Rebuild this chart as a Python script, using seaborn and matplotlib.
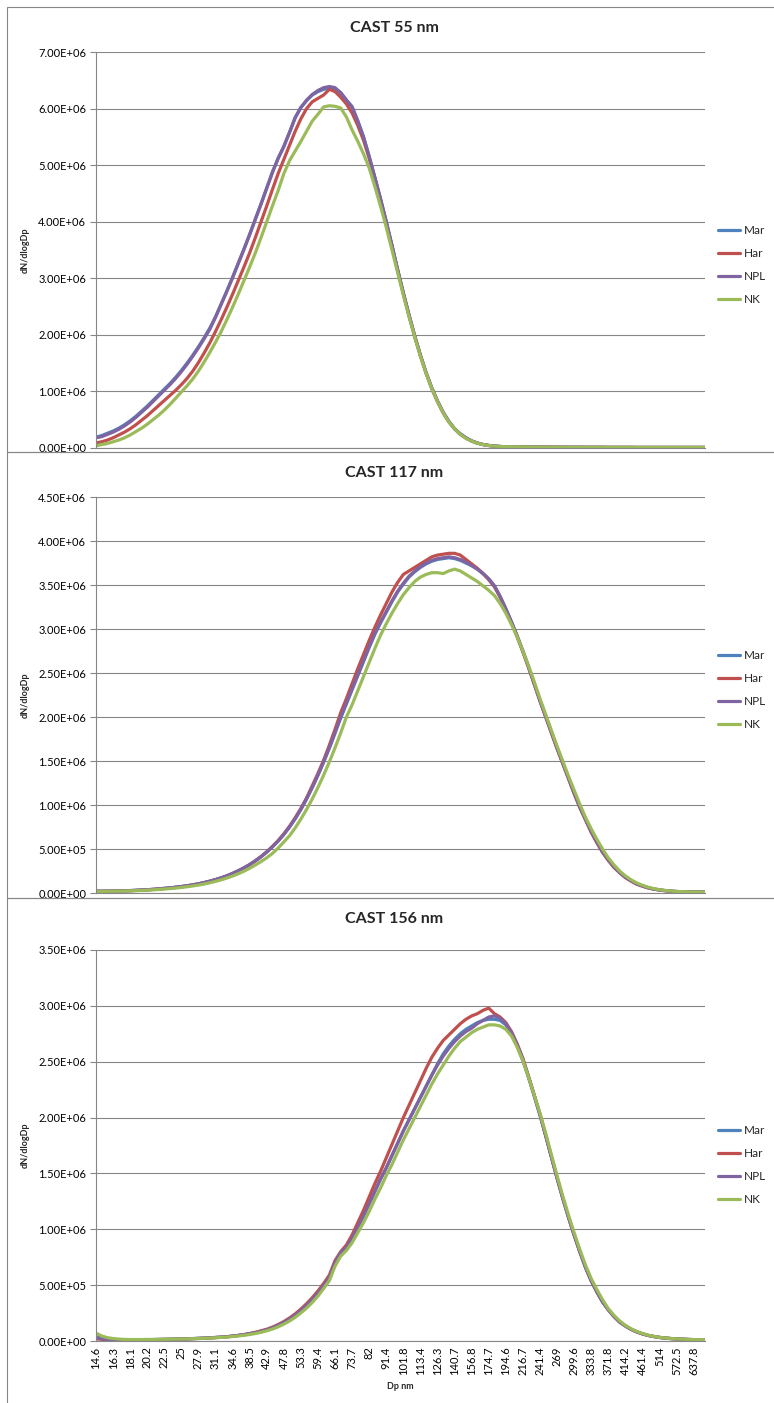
import matplotlib
matplotlib.use("Agg")
import matplotlib.pyplot as plt
from matplotlib.patches import Rectangle
from matplotlib.ticker import FuncFormatter, MultipleLocator
import numpy as np
import pandas as pd
import seaborn as sns

# SMPS channel midpoints (nm), 64 channels per decade
dp_bins = [
    14.6, 15.1, 15.7, 16.3, 16.8, 17.5, 18.1, 18.8, 19.5, 20.2, 20.9, 21.7, 22.5, 23.3, 24.1,
    25.0, 25.9, 26.9, 27.9, 28.9, 30.0, 31.1, 32.2, 33.4, 34.6, 35.9, 37.2, 38.5, 40.0, 41.4,
    42.9, 44.5, 46.1, 47.8, 49.6, 51.4, 53.3, 55.2, 57.3, 59.4, 61.5, 63.8, 66.1, 68.5, 71.0,
    73.7, 76.4, 79.1, 82.0, 85.1, 88.2, 91.4, 94.7, 98.2, 101.8, 105.5, 109.4, 113.4, 117.6,
    121.9, 126.3, 131.0, 135.8, 140.7, 145.9, 151.2, 156.8, 162.5, 168.5, 174.7, 181.1, 187.7,
    194.6, 201.7, 209.1, 216.7, 224.7, 232.9, 241.4, 250.3, 259.5, 269.0, 278.8, 289.0, 299.6,
    310.6, 322.0, 333.8, 346.0, 358.7, 371.8, 385.4, 399.5, 414.2, 429.4, 445.1, 461.4, 478.3,
    495.8, 514.0, 532.8, 552.3, 572.5, 593.5, 615.3, 637.8, 661.2, 685.4,
]

series_names = ["Mar", "Har", "NPL", "NK"]
series_colors = ["#4F81BD", "#C0504D", "#8064A2", "#9BBB59"]

tail_a = [0.022, 0.020, 0.019, 0.018, 0.017, 0.016, 0.015, 0.015, 0.014, 0.014, 0.013, 0.013,
          0.013, 0.012, 0.012, 0.012, 0.012, 0.011, 0.011, 0.011, 0.011, 0.011, 0.010, 0.010,
          0.010, 0.010, 0.010, 0.010, 0.010, 0.010, 0.010, 0.010, 0.010, 0.010, 0.010]

# ---- CAST 55 nm (values in 1e6 dN/dlogDp) ----
cast55_mar = [
    0.19, 0.22, 0.26, 0.30, 0.35, 0.41, 0.48, 0.56, 0.65, 0.74, 0.84, 0.94, 1.04, 1.14, 1.25,
    1.37, 1.50, 1.64, 1.79, 1.95, 2.12, 2.32, 2.55, 2.78, 3.02, 3.27, 3.52, 3.78, 4.05, 4.32,
    4.60, 4.88, 5.12, 5.33, 5.58, 5.84, 6.02, 6.14, 6.24, 6.30, 6.34, 6.36, 6.35, 6.28, 6.15,
    6.03, 5.78, 5.50, 5.15, 4.78, 4.40, 4.00, 3.58, 3.15, 2.74, 2.35, 1.98, 1.64, 1.33, 1.06,
    0.83, 0.63, 0.47, 0.34, 0.25, 0.18, 0.125, 0.088, 0.062, 0.045, 0.034, 0.027, 0.023,
] + tail_a
cast55_har = [
    0.09, 0.11, 0.14, 0.18, 0.23, 0.28, 0.34, 0.41, 0.49, 0.57, 0.66, 0.75, 0.84, 0.93, 1.02,
    1.12, 1.23, 1.36, 1.51, 1.68, 1.86, 2.06, 2.27, 2.49, 2.72, 2.96, 3.20, 3.45, 3.72, 4.00,
    4.28, 4.57, 4.85, 5.10, 5.35, 5.60, 5.82, 6.00, 6.12, 6.18, 6.24, 6.34, 6.30, 6.20, 6.08,
    5.92, 5.70, 5.44, 5.12, 4.76, 4.38, 3.98, 3.57, 3.14, 2.73, 2.34, 1.97, 1.63, 1.32, 1.05,
    0.82, 0.62, 0.46, 0.34, 0.24, 0.175, 0.122, 0.086, 0.060, 0.044, 0.033, 0.026, 0.022,
] + tail_a
cast55_npl = [
    0.18, 0.20, 0.24, 0.28, 0.33, 0.39, 0.46, 0.54, 0.63, 0.72, 0.82, 0.92, 1.02, 1.12, 1.23,
    1.35, 1.48, 1.62, 1.77, 1.93, 2.10, 2.31, 2.54, 2.77, 3.01, 3.26, 3.51, 3.77, 4.04, 4.31,
    4.59, 4.87, 5.12, 5.33, 5.58, 5.84, 6.02, 6.15, 6.25, 6.32, 6.37, 6.39, 6.37, 6.28, 6.15,
    6.03, 5.78, 5.50, 5.15, 4.78, 4.40, 4.00, 3.58, 3.15, 2.74, 2.35, 1.98, 1.64, 1.33, 1.06,
    0.83, 0.63, 0.47, 0.34, 0.25, 0.18, 0.125, 0.088, 0.062, 0.045, 0.034, 0.027, 0.022,
] + tail_a
cast55_nk = [
    0.04, 0.06, 0.08, 0.11, 0.14, 0.18, 0.23, 0.29, 0.35, 0.42, 0.50, 0.58, 0.67, 0.77, 0.88,
    0.99, 1.10, 1.22, 1.36, 1.52, 1.69, 1.87, 2.06, 2.27, 2.49, 2.72, 2.96, 3.20, 3.45, 3.72,
    4.00, 4.28, 4.55, 4.85, 5.08, 5.25, 5.42, 5.60, 5.78, 5.90, 6.03, 6.05, 6.04, 6.01, 5.85,
    5.62, 5.42, 5.20, 4.95, 4.62, 4.27, 3.90, 3.50, 3.10, 2.70, 2.32, 1.96, 1.62, 1.32, 1.05,
    0.82, 0.62, 0.46, 0.34, 0.24, 0.17, 0.12, 0.085, 0.060, 0.044, 0.033, 0.027, 0.023,
] + tail_a

# ---- CAST 117 nm ----
cast117_mar = [
    0.021, 0.021, 0.022, 0.023, 0.024, 0.026, 0.028, 0.031, 0.034, 0.038,
    0.042, 0.047, 0.053, 0.059, 0.066, 0.074, 0.083, 0.093, 0.105, 0.119,
    0.135, 0.153, 0.173, 0.196, 0.223, 0.253, 0.286, 0.323, 0.366, 0.413,
    0.466, 0.526, 0.591, 0.666, 0.751, 0.846, 0.951, 1.07, 1.20, 1.34,
    1.49, 1.65, 1.82, 1.99, 2.15, 2.31, 2.47, 2.63, 2.79, 2.94,
    3.07, 3.19, 3.31, 3.42, 3.51, 3.59, 3.65, 3.70, 3.74, 3.77,
    3.79, 3.80, 3.81, 3.80, 3.78, 3.75, 3.72, 3.68, 3.63, 3.57,
    3.49, 3.37, 3.23, 3.08, 2.92, 2.75, 2.57, 2.38, 2.19, 2.01,
    1.83, 1.65, 1.48, 1.31, 1.14, 0.98, 0.84, 0.70, 0.58, 0.47,
    0.38, 0.30, 0.235, 0.18, 0.14, 0.105, 0.080, 0.060, 0.045, 0.035,
    0.027, 0.021, 0.017, 0.014, 0.012, 0.011, 0.010, 0.010,
]
cast117_har = [
    0.019, 0.019, 0.020, 0.021, 0.022, 0.024, 0.026, 0.029, 0.032, 0.036,
    0.040, 0.045, 0.051, 0.057, 0.064, 0.072, 0.081, 0.091, 0.103, 0.117,
    0.133, 0.151, 0.171, 0.194, 0.221, 0.251, 0.284, 0.322, 0.366, 0.414,
    0.468, 0.529, 0.596, 0.672, 0.758, 0.855, 0.962, 1.08, 1.22, 1.36,
    1.51, 1.68, 1.86, 2.05, 2.21, 2.38, 2.55, 2.71, 2.87, 3.02,
    3.16, 3.29, 3.42, 3.53, 3.62, 3.66, 3.70, 3.74, 3.78, 3.82,
    3.84, 3.85, 3.86, 3.86, 3.84, 3.79, 3.74, 3.69, 3.63, 3.56,
    3.48, 3.36, 3.22, 3.07, 2.91, 2.74, 2.56, 2.37, 2.18, 2.00,
    1.82, 1.64, 1.47, 1.30, 1.13, 0.97, 0.83, 0.69, 0.57, 0.46,
    0.37, 0.29, 0.23, 0.175, 0.135, 0.100, 0.078, 0.058, 0.044, 0.034,
    0.026, 0.020, 0.016, 0.013, 0.012, 0.011, 0.010, 0.010,
]
cast117_npl = [
    0.020, 0.020, 0.021, 0.022, 0.023, 0.025, 0.027, 0.030, 0.033, 0.037,
    0.041, 0.046, 0.052, 0.058, 0.065, 0.073, 0.082, 0.092, 0.104, 0.118,
    0.134, 0.152, 0.172, 0.195, 0.222, 0.252, 0.285, 0.322, 0.365, 0.412,
    0.465, 0.525, 0.590, 0.665, 0.750, 0.845, 0.950, 1.07, 1.20, 1.34,
    1.49, 1.65, 1.82, 2.00, 2.16, 2.32, 2.48, 2.64, 2.80, 2.95,
    3.08, 3.20, 3.32, 3.43, 3.52, 3.60, 3.66, 3.71, 3.75, 3.78,
    3.80, 3.81, 3.82, 3.81, 3.79, 3.76, 3.72, 3.68, 3.63, 3.57,
    3.49, 3.37, 3.23, 3.08, 2.92, 2.75, 2.57, 2.38, 2.19, 2.01,
    1.83, 1.65, 1.48, 1.31, 1.14, 0.98, 0.84, 0.70, 0.58, 0.47,
    0.38, 0.30, 0.235, 0.18, 0.14, 0.105, 0.080, 0.060, 0.045, 0.035,
    0.027, 0.021, 0.017, 0.014, 0.012, 0.011, 0.010, 0.010,
]
cast117_nk = [
    0.018, 0.018, 0.019, 0.020, 0.021, 0.022, 0.024, 0.026, 0.029, 0.032,
    0.036, 0.040, 0.045, 0.050, 0.056, 0.063, 0.071, 0.080, 0.090, 0.102,
    0.116, 0.132, 0.150, 0.170, 0.193, 0.219, 0.248, 0.281, 0.318, 0.358,
    0.40, 0.45, 0.51, 0.58, 0.65, 0.74, 0.84, 0.95, 1.07, 1.20,
    1.34, 1.49, 1.65, 1.82, 2.00, 2.14, 2.30, 2.46, 2.62, 2.78,
    2.93, 3.06, 3.18, 3.29, 3.39, 3.47, 3.54, 3.59, 3.62, 3.64,
    3.64, 3.63, 3.66, 3.68, 3.66, 3.62, 3.58, 3.54, 3.49, 3.44,
    3.38, 3.29, 3.18, 3.05, 2.91, 2.75, 2.58, 2.40, 2.21, 2.03,
    1.85, 1.67, 1.50, 1.33, 1.17, 1.01, 0.86, 0.73, 0.61, 0.50,
    0.40, 0.32, 0.25, 0.195, 0.15, 0.115, 0.088, 0.066, 0.050, 0.038,
    0.029, 0.023, 0.018, 0.015, 0.013, 0.011, 0.010, 0.010,
]

# ---- CAST 156 nm ----
cast156_mar = [
    0.040, 0.025, 0.017, 0.013, 0.011, 0.009, 0.009, 0.010, 0.011, 0.012,
    0.013, 0.014, 0.015, 0.016, 0.017, 0.019, 0.020, 0.022, 0.024, 0.026,
    0.029, 0.032, 0.035, 0.039, 0.044, 0.050, 0.057, 0.065, 0.075, 0.087,
    0.101, 0.119, 0.141, 0.167, 0.197, 0.233, 0.274, 0.321, 0.373, 0.431,
    0.496, 0.569, 0.70, 0.79, 0.84, 0.92, 1.02, 1.12, 1.23, 1.34,
    1.45, 1.55, 1.66, 1.77, 1.88, 1.98, 2.08, 2.18, 2.28, 2.38,
    2.48, 2.57, 2.64, 2.70, 2.75, 2.79, 2.82, 2.85, 2.87, 2.88,
    2.88, 2.87, 2.83, 2.75, 2.64, 2.51, 2.36, 2.19, 2.02, 1.84,
    1.65, 1.46, 1.28, 1.11, 0.95, 0.80, 0.66, 0.54, 0.44, 0.35,
    0.28, 0.22, 0.17, 0.135, 0.105, 0.082, 0.064, 0.050, 0.040, 0.032,
    0.026, 0.022, 0.018, 0.016, 0.014, 0.012, 0.011, 0.010,
]
cast156_har = [
    0.020, 0.015, 0.012, 0.010, 0.009, 0.008, 0.008, 0.009, 0.010, 0.011,
    0.012, 0.013, 0.014, 0.015, 0.016, 0.018, 0.019, 0.021, 0.023, 0.025,
    0.028, 0.031, 0.034, 0.038, 0.044, 0.050, 0.058, 0.067, 0.078, 0.091,
    0.105, 0.124, 0.147, 0.174, 0.206, 0.243, 0.286, 0.334, 0.388, 0.448,
    0.515, 0.590, 0.72, 0.80, 0.86, 0.95, 1.06, 1.17, 1.29, 1.41,
    1.52, 1.64, 1.76, 1.88, 2.00, 2.11, 2.22, 2.33, 2.44, 2.54,
    2.62, 2.69, 2.74, 2.79, 2.84, 2.88, 2.91, 2.93, 2.96, 2.98,
    2.93, 2.90, 2.85, 2.77, 2.66, 2.53, 2.37, 2.20, 2.03, 1.84,
    1.65, 1.46, 1.28, 1.11, 0.95, 0.80, 0.66, 0.54, 0.44, 0.35,
    0.28, 0.22, 0.17, 0.135, 0.105, 0.082, 0.064, 0.050, 0.040, 0.032,
    0.026, 0.022, 0.018, 0.016, 0.014, 0.012, 0.011, 0.010,
]
cast156_npl = [
    0.030, 0.020, 0.015, 0.012, 0.010, 0.008, 0.008, 0.009, 0.010, 0.011,
    0.012, 0.013, 0.014, 0.015, 0.016, 0.018, 0.019, 0.021, 0.023, 0.025,
    0.028, 0.031, 0.034, 0.038, 0.043, 0.049, 0.056, 0.064, 0.074, 0.086,
    0.100, 0.118, 0.140, 0.166, 0.196, 0.232, 0.273, 0.320, 0.372, 0.430,
    0.495, 0.568, 0.70, 0.79, 0.84, 0.92, 1.02, 1.12, 1.23, 1.34,
    1.45, 1.55, 1.66, 1.77, 1.88, 1.98, 2.08, 2.18, 2.28, 2.38,
    2.47, 2.55, 2.62, 2.68, 2.73, 2.77, 2.80, 2.84, 2.87, 2.90,
    2.91, 2.89, 2.84, 2.76, 2.65, 2.52, 2.36, 2.20, 2.03, 1.84,
    1.65, 1.46, 1.28, 1.11, 0.95, 0.80, 0.66, 0.54, 0.44, 0.35,
    0.28, 0.22, 0.17, 0.135, 0.105, 0.082, 0.064, 0.050, 0.040, 0.032,
    0.026, 0.022, 0.018, 0.016, 0.014, 0.012, 0.011, 0.010,
]
cast156_nk = [
    0.070, 0.045, 0.030, 0.022, 0.017, 0.014, 0.013, 0.013, 0.013, 0.014,
    0.014, 0.015, 0.015, 0.016, 0.017, 0.018, 0.019, 0.021, 0.022, 0.024,
    0.026, 0.029, 0.032, 0.035, 0.040, 0.045, 0.051, 0.058, 0.067, 0.078,
    0.091, 0.107, 0.127, 0.151, 0.179, 0.212, 0.251, 0.295, 0.345, 0.402,
    0.47, 0.54, 0.67, 0.76, 0.81, 0.88, 0.97, 1.06, 1.16, 1.27,
    1.37, 1.48, 1.58, 1.69, 1.80, 1.90, 2.00, 2.10, 2.20, 2.30,
    2.39, 2.47, 2.55, 2.62, 2.68, 2.72, 2.76, 2.79, 2.81, 2.83,
    2.83, 2.82, 2.79, 2.73, 2.63, 2.51, 2.36, 2.20, 2.04, 1.86,
    1.67, 1.48, 1.30, 1.13, 0.97, 0.82, 0.68, 0.56, 0.46, 0.37,
    0.29, 0.23, 0.18, 0.14, 0.11, 0.086, 0.067, 0.052, 0.041, 0.033,
    0.027, 0.022, 0.019, 0.016, 0.014, 0.013, 0.012, 0.011,
]

panel_titles = ["CAST 55 nm", "CAST 117 nm", "CAST 156 nm"]
panel_data = [
    [cast55_mar, cast55_har, cast55_npl, cast55_nk],
    [cast117_mar, cast117_har, cast117_npl, cast117_nk],
    [cast156_mar, cast156_har, cast156_npl, cast156_nk],
]
panel_ymax = [7.0e6, 4.5e6, 3.5e6]
panel_ystep = [1.0e6, 0.5e6, 0.5e6]

# ---- figure layout (pixel boxes) ----
W, H = 774, 1403
sns.set_theme(style="white")
plt.rcParams["font.family"] = ["Lato", "DejaVu Sans"]
fig = plt.figure(figsize=(W / 100, H / 100), dpi=100)
fig.patch.set_facecolor("white")

GRID = "#868686"


def fig_rect(left, top, right, bottom):
    return [left / W, 1 - bottom / H, (right - left) / W, (bottom - top) / H]


# chart frames
frames = [(7, 7, 790, 452), (7, 452, 790, 898), (7, 898, 790, 1420)]
for l, t, r, b in frames:
    fig.patches.append(Rectangle((l / W, 1 - b / H), (r - l) / W, (b - t) / H,
                                 transform=fig.transFigure, fill=False,
                                 edgecolor=GRID, linewidth=0.8, zorder=0))

plot_boxes = [(96, 52, 705, 448), (96, 497, 705, 893), (96, 950, 705, 1341)]
title_y = [28, 473, 919]
legend_y = [265, 690, 1165]

n = len(dp_bins)
for k in range(3):
    ax = fig.add_axes(fig_rect(*plot_boxes[k]))
    rows = []
    for name, vals in zip(series_names, panel_data[k]):
        for i, v in enumerate(vals):
            rows.append({"idx": i, "dNdlogDp": v * 1e6, "series": name})
    df = pd.DataFrame(rows)
    sns.lineplot(data=df, x="idx", y="dNdlogDp", hue="series", hue_order=series_names,
                 palette=series_colors, linewidth=2.3, ax=ax, legend=False,
                 estimator=None, sort=False)
    for line in ax.lines:
        line.set_solid_capstyle("round")
        line.set_solid_joinstyle("round")

    ax.set_xlim(0, n - 1)
    ax.set_ylim(0, panel_ymax[k])
    ax.yaxis.set_major_locator(MultipleLocator(panel_ystep[k]))
    ax.yaxis.set_major_formatter(FuncFormatter(lambda v, p: f"{v:.2E}"))
    ax.grid(axis="y", color=GRID, linewidth=0.8)
    ax.grid(axis="x", visible=False)
    ax.set_axisbelow(True)
    for s in ["top", "right"]:
        ax.spines[s].set_visible(False)
    for s in ["left", "bottom"]:
        ax.spines[s].set_color(GRID)
        ax.spines[s].set_linewidth(0.8)
    ax.tick_params(axis="y", direction="out", length=4, width=0.8, color=GRID,
                   labelsize=8, pad=3, labelcolor="black", left=True)
    ax.set_ylabel("dN/dlogDp", fontsize=6.5, fontweight="bold", labelpad=6)
    ax.yaxis.set_label_coords(-0.108, 0.5)

    if k == 2:
        ticks = list(range(0, n, 3))
        ax.set_xticks(ticks)
        ax.set_xticklabels([f"{dp_bins[i]:g}" for i in ticks], rotation=90, fontsize=8)
        ax.tick_params(axis="x", length=0, pad=4, labelcolor="black")
        ax.set_xlabel("Dp nm", fontsize=6.5, fontweight="bold", labelpad=5)
    else:
        ax.set_xticks([])
        ax.set_xlabel("")

    fig.text(394 / W, 1 - title_y[k] / H, panel_titles[k], ha="center", va="center",
             fontsize=11.5, fontweight="bold")

    handles = ax.lines[:4]
    ax.legend(handles, series_names, loc="center left",
              bbox_to_anchor=(718 / W, 1 - legend_y[k] / H), bbox_transform=fig.transFigure,
              frameon=False, fontsize=8.5, handlelength=1.9, handletextpad=0.25,
              labelspacing=1.0, borderaxespad=0, borderpad=0)

fig.savefig("out.png", dpi=100, facecolor="white")
